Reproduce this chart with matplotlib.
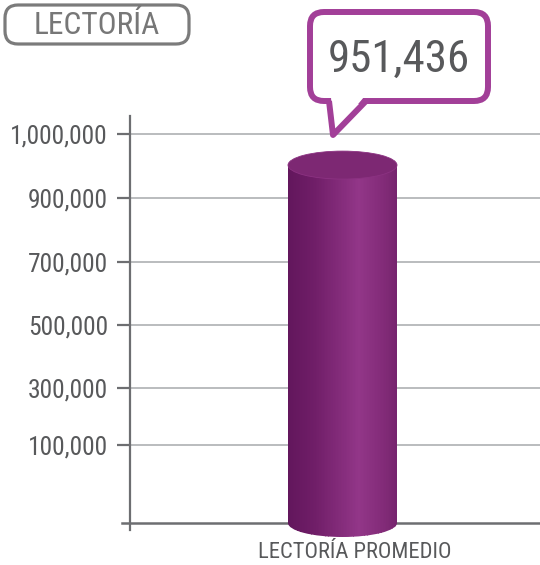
#!/usr/bin/env python3
# plot.py
# Cylinder bar chart "LECTORÍA" -> out.png

import numpy as np
import matplotlib
matplotlib.use("Agg")
import matplotlib.pyplot as plt
import matplotlib.transforms as mtransforms
from matplotlib import font_manager as fm
from matplotlib.patches import Ellipse, Rectangle, FancyBboxPatch, Polygon
from matplotlib.collections import PatchCollection

# data
title = "LECTORÍA"
categories = ["LECTORÍA PROMEDIO"]
values = [951436]
tick_vals = [100000, 300000, 500000, 700000, 900000, 1000000]
tick_labels = ["100,000", "300,000", "500,000", "700,000", "900,000", "1,000,000"]

# the original axis is not linear: spacing of the printed ticks (px above baseline)
scale_vals = np.array([0, 100000, 300000, 500000, 700000, 900000, 1000000], float)
scale_pos = np.array([0, 78, 135, 198, 261, 325, 389], float)

TEXT = "#58595b"
AXIS = "#6d6e71"
GRID = "#a7a9ac"
PURPLE = "#a23f98"


def pick_font():
    # the reference uses a narrow DIN-like face; take the narrowest one we have
    entries = fm.fontManager.ttflist
    names = {f.name for f in entries}
    for n in ["Liberation Sans Narrow", "Roboto Condensed", "Open Sans Condensed",
              "Noto Sans Condensed", "DejaVu Sans Condensed", "Arial Narrow"]:
        if n in names:
            return n, "normal"
    for fam in ["Roboto", "Noto Sans", "Open Sans", "DejaVu Sans", "Lato", "Inter"]:
        for f in entries:
            if f.name == fam and str(f.stretch) in ("condensed", "semi-condensed",
                                                     "extra-condensed", "ultra-condensed"):
                return fam, str(f.stretch)
    return "Liberation Sans", "normal"


FAMILY, STRETCH = pick_font()
FONT = [FAMILY, "DejaVu Sans"]


def fwd(v):
    v = np.asarray(v, float)
    out = np.interp(v, scale_vals, scale_pos)
    s_lo = (scale_pos[1] - scale_pos[0]) / (scale_vals[1] - scale_vals[0])
    s_hi = (scale_pos[-1] - scale_pos[-2]) / (scale_vals[-1] - scale_vals[-2])
    out = np.where(v < scale_vals[0], scale_pos[0] + (v - scale_vals[0]) * s_lo, out)
    out = np.where(v > scale_vals[-1], scale_pos[-1] + (v - scale_vals[-1]) * s_hi, out)
    return out


def inv(p):
    p = np.asarray(p, float)
    out = np.interp(p, scale_pos, scale_vals)
    s_lo = (scale_vals[1] - scale_vals[0]) / (scale_pos[1] - scale_pos[0])
    s_hi = (scale_vals[-1] - scale_vals[-2]) / (scale_pos[-1] - scale_pos[-2])
    out = np.where(p < scale_pos[0], scale_vals[0] + (p - scale_pos[0]) * s_lo, out)
    out = np.where(p > scale_pos[-1], scale_vals[-1] + (p - scale_pos[-1]) * s_hi, out)
    return out


def shade(t):
    # horizontal colour profile of the cylinder, t in [0, 1]
    stops = np.array([0.0, 0.25, 0.65, 0.9, 1.0])
    r = np.interp(t, stops, [98, 112, 146, 128, 118])
    g = np.interp(t, stops, [22, 30, 54, 42, 36])
    b = np.interp(t, stops, [92, 104, 136, 118, 110])
    return np.stack([r, g, b], axis=-1) / 255.0


def fit(texts, width_px, max_size):
    # shrink a group of texts so the widest fits width_px (fonts differ per machine)
    r = fig.canvas.get_renderer()
    w = max(t.get_window_extent(r).width for t in texts)
    size = texts[0].get_fontsize()
    new = min(max_size, size * width_px / w)
    for t in texts:
        t.set_fontsize(new)
    return new


W, H = 540, 565
fig = plt.figure(figsize=(W / 100, H / 100), dpi=100)

# main axes: left spine at x=130px, top at y=116px, bottom at y=530px
ax = fig.add_axes([130 / W, (H - 530) / H, (W - 130) / W, (530 - 116) / H])
ax.set_yscale("function", functions=(fwd, inv))
ax.set_ylim(float(inv(-7)), float(inv(407)))
px_unit = 109.0
cx = 342.5
ax.set_xlim(-(cx - 130) / px_unit, (W - cx) / px_unit)

for s in ["top", "right", "bottom"]:
    ax.spines[s].set_visible(False)
ax.spines["left"].set_color(AXIS)
ax.spines["left"].set_linewidth(1.6)
ax.set_yticks(tick_vals, tick_labels)
ax.tick_params(axis="y", length=9.5, width=1.6, color=AXIS, pad=6.5,
               labelsize=19, labelcolor=TEXT)
ax.yaxis.grid(True, color=GRID, linewidth=1.1)
ax.set_axisbelow(True)
ax.axhline(0, xmin=-8 / (W - 130), xmax=1, color=AXIS, linewidth=1.8,
           clip_on=False, zorder=1)

x = np.arange(len(categories))
ax.set_xticks(x, categories)
ax.tick_params(axis="x", length=0, pad=9, labelsize=16, labelcolor=TEXT)
for lab in ax.get_xticklabels():
    lab.set_transform(lab.get_transform() +
                      mtransforms.ScaledTranslation(0.12, 0, fig.dpi_scale_trans))
for lab in ax.get_yticklabels() + ax.get_xticklabels():
    lab.set_family(FONT)
    lab.set_stretch(STRETCH)

# cylinders: body from thin bars, ellipses for the ends
n = 70
ell_w = px_unit / 100.0
ell_h = 0.28
for xi, v in zip(x, values):
    t = (np.arange(n) + 0.5) / n
    cols = shade(t)
    xs = xi - 0.5 + t
    ax.bar(xs, v, width=1.0 / n + 0.002, color=cols, linewidth=0, zorder=3)

    base = fig.dpi_scale_trans + mtransforms.ScaledTranslation(xi, 0, ax.transData)
    bottom = Ellipse((0, 0), ell_w, ell_h, transform=base)
    stripes = [Rectangle((-ell_w / 2 + k * ell_w / n, -ell_h / 2), ell_w / n + 0.002, ell_h / 2)
               for k in range(n)]
    pc = PatchCollection(stripes, transform=base, facecolors=cols, linewidths=0, zorder=3)
    pc.set_clip_path(bottom)
    ax.add_collection(pc, autolim=False)

    top_tr = fig.dpi_scale_trans + mtransforms.ScaledTranslation(xi, v, ax.transData)
    top = Ellipse((0, 0), ell_w, ell_h, transform=top_tr, facecolor="#7d2873",
                  edgecolor="#8c3282", linewidth=0.6, zorder=4, clip_on=False)
    ax.add_patch(top)

# overlay in pixel coordinates for the title and the callout
ov = fig.add_axes([0, 0, 1, 1], zorder=5)
ov.set_xlim(0, W)
ov.set_ylim(H, 0)
ov.axis("off")

ov.add_patch(FancyBboxPatch((5, 5), 184, 39, boxstyle="round,pad=0,rounding_size=13",
                            facecolor="white", edgecolor="#7b7b7b", linewidth=2.3))
title_txt = ov.text(97, 26, title, ha="center", va="center", fontsize=26,
                    color="#777777", family=FONT, stretch=STRETCH)

ov.add_patch(FancyBboxPatch((310, 12), 178, 89, boxstyle="round,pad=0,rounding_size=14",
                            facecolor="white", edgecolor=PURPLE, linewidth=4.3))
ov.add_patch(Polygon([(331, 97), (333, 134), (364, 97)], closed=True,
                     facecolor="white", edgecolor="none"))
ov.plot([329, 333, 366], [101, 135, 101], color=PURPLE, linewidth=4.3,
        solid_joinstyle="round", solid_capstyle="butt")
value_txt = ov.text(399, 60, f"{values[0]:,}", ha="center", va="center", fontsize=38,
                    color=TEXT, family=FONT, stretch=STRETCH)

# match the reference text widths with whatever narrow face is installed
fit(ax.get_yticklabels(), 98, 19)
fit(ax.get_xticklabels(), 194, 17)
fit([title_txt], 126, 27)
fit([value_txt], 142, 38)

fig.savefig("out.png", dpi=100)
